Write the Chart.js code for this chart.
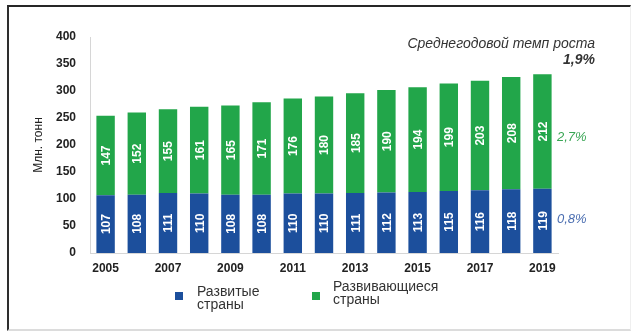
<!DOCTYPE html>
<html>
<head>
<meta charset="utf-8">
<script src="https://cdn.jsdelivr.net/npm/chart.js@4.4.1/dist/chart.umd.min.js"></script>
<style>
  html, body { margin: 0; padding: 0; background: #fff; }
  #wrap { position: relative; width: 632px; height: 331px; overflow: hidden;
          font-family: "Liberation Sans", Arial, sans-serif; }
  #frame { position: absolute; left: 7px; top: 5px; right: 1px; bottom: 0;
           border-top: 2px solid #262626; border-left: 2px solid #2e2e2e;
           border-bottom: 2px solid #dcdcdc; border-right: 1px solid #efefef; }
  #chart { position: absolute; left: 0; top: 0; }
  .note { position: absolute; white-space: nowrap; font-style: italic; }
  #rateTitle { right: 37px; top: 35px; font-size: 14px; color: #333; line-height: 16px; }
  #rateTotal { right: 37px; top: 51px; font-size: 14px; font-weight: bold; color: #333; line-height: 16px; }
  #rateDeveloping { left: 557px; top: 129px; font-size: 13px; color: #3aa655; line-height: 16px; }
  #rateDeveloped { left: 557px; top: 211px; font-size: 13px; color: #4a6db0; line-height: 16px; }
  .lg-box { position: absolute; width: 8px; height: 8px; }
  .lg-text { position: absolute; font-size: 14px; color: #333; white-space: pre; line-height: 12.5px; }
</style>
</head>
<body>
<div id="wrap">
  <div id="frame"></div>
  <canvas id="chart" width="632" height="331"></canvas>
  <div class="note" id="rateTitle"></div>
  <div class="note" id="rateTotal"></div>
  <div class="note" id="rateDeveloping"></div>
  <div class="note" id="rateDeveloped"></div>
  <div class="lg-box" id="lgBox0"></div>
  <div class="lg-text" id="lgText0"></div>
  <div class="lg-box" id="lgBox1"></div>
  <div class="lg-text" id="lgText1"></div>
</div>
<script>
// Production by country group, million tonnes
const years = ['2005','2006','2007','2008','2009','2010','2011','2012','2013','2014','2015','2016','2017','2018','2019'];
const developed  = [107, 108, 111, 110, 108, 108, 110, 110, 111, 112, 113, 115, 116, 118, 119];
const developing = [147, 152, 155, 161, 165, 171, 176, 180, 185, 190, 194, 199, 203, 208, 212];
const seriesNames = ['Развитые\nстраны', 'Развивающиеся\nстраны'];
const seriesColors = ['#1c4f9c', '#22a64a'];
const yMin = 0, yMax = 400, yStep = 50;
const axisTitle = 'Млн. тонн';
const rateTitle = 'Среднегодовой темп роста';
const rateTotal = '1,9%';
const rateDeveloping = '2,7%';
const rateDeveloped = '0,8%';

const FONT = '"Liberation Sans", Arial, sans-serif';

// white rotated value labels centred in each stacked segment
const barValueLabels = {
  id: 'barValueLabels',
  afterDatasetsDraw(chart) {
    const ctx = chart.ctx;
    chart.data.datasets.forEach((ds, di) => {
      const meta = chart.getDatasetMeta(di);
      meta.data.forEach((bar, i) => {
        const p = bar.getProps(['x', 'y', 'base'], true);
        const cy = (p.y + p.base) / 2;
        ctx.save();
        ctx.translate(p.x, cy);
        ctx.rotate(-Math.PI / 2);
        ctx.fillStyle = '#ffffff';
        ctx.font = 'bold 12px ' + FONT;
        ctx.textAlign = 'center';
        ctx.textBaseline = 'middle';
        ctx.fillText(String(ds.data[i]), 0, 1);
        ctx.restore();
      });
    });
  }
};

new Chart(document.getElementById('chart'), {
  type: 'bar',
  data: {
    labels: years,
    datasets: [
      { label: seriesNames[0], data: developed, backgroundColor: seriesColors[0],
        barPercentage: 0.59, categoryPercentage: 1.0 },
      { label: seriesNames[1], data: developing, backgroundColor: seriesColors[1],
        barPercentage: 0.59, categoryPercentage: 1.0 }
    ]
  },
  options: {
    responsive: false,
    animation: false,
    layout: { padding: { top: 37, right: 74, bottom: 0, left: 0 } },
    plugins: { legend: { display: false }, tooltip: { enabled: false } },
    scales: {
      x: {
        stacked: true,
        grid: { display: false, drawTicks: false },
        border: { display: true, color: '#d6d6d6', width: 1 },
        ticks: {
          autoSkip: false, maxRotation: 0, padding: 8, color: '#222',
          font: { family: FONT, size: 12, weight: 'bold' },
          callback: (v, i) => (i % 2 === 0 ? years[i] : '')
        },
        afterFit: s => { s.height = 78; }
      },
      y: {
        stacked: true,
        min: yMin, max: yMax,
        grid: { display: false, drawTicks: false },
        border: { display: true, color: '#d6d6d6', width: 1 },
        ticks: { stepSize: yStep, padding: 14, color: '#222',
                 font: { family: FONT, size: 12, weight: 'bold' } },
        title: { display: true, text: axisTitle, color: '#222',
                 font: { family: FONT, size: 12 }, padding: { top: 31, bottom: 0 } },
        afterFit: s => { s.width = 90; }
      }
    }
  },
  plugins: [barValueLabels]
});

// annotations and legend
document.getElementById('rateTitle').textContent = rateTitle;
document.getElementById('rateTotal').textContent = rateTotal;
document.getElementById('rateDeveloping').textContent = rateDeveloping;
document.getElementById('rateDeveloped').textContent = rateDeveloped;

const legendPos = [
  { box: [175, 292], text: [197, 285] },
  { box: [312, 292], text: [333, 280] }
];
seriesNames.forEach((name, i) => {
  const b = document.getElementById('lgBox' + i);
  b.style.left = legendPos[i].box[0] + 'px';
  b.style.top = legendPos[i].box[1] + 'px';
  b.style.background = seriesColors[i];
  const t = document.getElementById('lgText' + i);
  t.style.left = legendPos[i].text[0] + 'px';
  t.style.top = legendPos[i].text[1] + 'px';
  t.textContent = name;
});
</script>
</body>
</html>
